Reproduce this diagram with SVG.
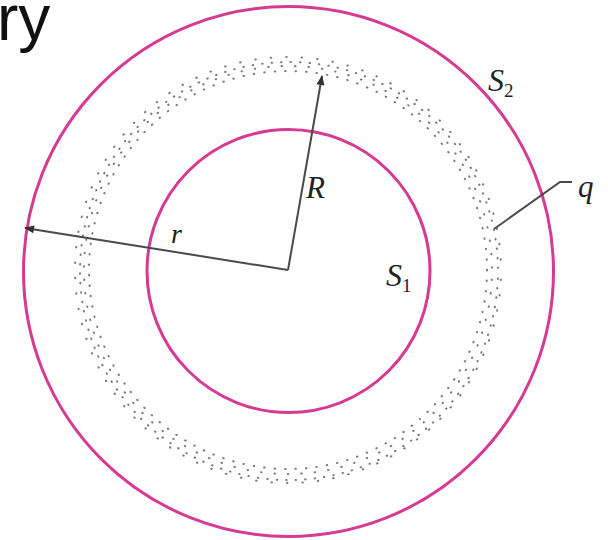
<svg xmlns="http://www.w3.org/2000/svg" width="608" height="540" viewBox="0 0 608 540">
<style>
.mag{fill:none;stroke:#d63a92;stroke-width:3}
.ln{fill:none;stroke:#4a4a4a;stroke-width:2}
.dot{fill:none;stroke:#7a7a7a;stroke-width:2;stroke-linecap:round}
.lab{font-family:"Liberation Serif",serif;font-style:italic;fill:#222}
.sub{font-family:"Liberation Serif",serif;fill:#222}
</style>
<defs>
<marker id="ah" viewBox="0 0 10 10" refX="9" refY="5" markerWidth="16" markerHeight="10" orient="auto" markerUnits="userSpaceOnUse">
<path d="M0,1 L10,5 L0,9 Z" fill="#333"/>
</marker>
</defs>
<text x="-3" y="40" font-family="Liberation Sans,Arial,sans-serif" font-size="64" fill="#111">ry</text>
<g id="charge-q">
<circle class="dot" cx="288" cy="270" r="199" stroke-dasharray="0.5 10"/>
<circle class="dot" cx="288" cy="270" r="204" stroke-dasharray="0.5 13" stroke-dashoffset="4"/>
<circle class="dot" cx="289" cy="271" r="209" stroke-dasharray="0.5 9" stroke-dashoffset="2"/>
<circle class="dot" cx="288" cy="270" r="213" stroke-dasharray="0.5 15" stroke-dashoffset="6"/>
</g>
<g id="S2"><circle class="mag" cx="288.5" cy="271.5" r="265"/></g>
<g id="S1"><circle class="mag" cx="288.5" cy="271" r="141.5"/></g>
<g id="connectors">
<line class="ln" x1="288" y1="270" x2="322" y2="76" marker-end="url(#ah)"/>
<line class="ln" x1="288" y1="270" x2="25" y2="228" marker-end="url(#ah)"/>
<polyline class="ln" stroke-width="1.6" points="494,229 560,182 572,182"/>
</g>
<g id="labels">
<text class="lab" x="171" y="243" font-size="28">r</text>
<text class="lab" x="306" y="198" font-size="31">R</text>
<text class="lab" x="386" y="286" font-size="32">S</text><text class="sub" x="402" y="292" font-size="19">1</text>
<text class="lab" x="488" y="91" font-size="32">S</text><text class="sub" x="504" y="97" font-size="19">2</text>
<text class="lab" x="578" y="197" font-size="31">q</text>
</g>
</svg>
